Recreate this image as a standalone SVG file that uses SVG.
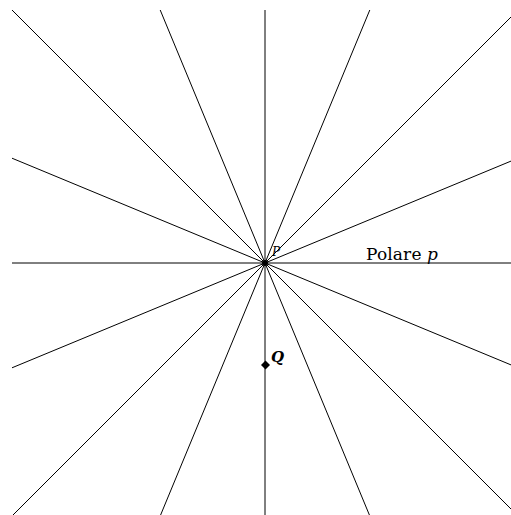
<svg xmlns="http://www.w3.org/2000/svg" width="511" height="515" viewBox="0 0 511 515">
<style>
.ln{stroke:#000;stroke-width:1;fill:none}
.lbl{font-family:"DejaVu Serif","Liberation Serif",serif;fill:#000}
.it{font-style:italic}
</style>
<rect width="511" height="515" fill="#fff"/>
<g id="connectors">
<line class="ln" x1="265" y1="10" x2="265" y2="515"/>
<line class="ln" x1="12" y1="263" x2="511" y2="263"/>
<line class="ln" x1="12" y1="10" x2="511" y2="509"/>
<line class="ln" x1="13" y1="515" x2="511" y2="17"/>
<line class="ln" x1="160.2" y1="10" x2="369.4" y2="515"/>
<line class="ln" x1="369.8" y1="10" x2="160.6" y2="515"/>
<line class="ln" x1="12" y1="158.2" x2="511" y2="364.9"/>
<line class="ln" x1="12" y1="367.8" x2="511" y2="161.1"/>
</g>
<g id="P">
<circle cx="265" cy="263" r="3" fill="#000"/>
<text class="lbl it" x="272" y="256" font-size="12">P</text>
</g>
<g id="Q">
<path d="M265.5 360.5 L270 365 L265.5 369.5 L261 365 Z" fill="#000"/>
<text class="lbl it" x="271" y="362" font-size="15" font-weight="bold">Q</text>
</g>
<g id="polare">
<text class="lbl" x="366" y="260" font-size="17" textLength="72" lengthAdjust="spacing">Polare <tspan class="it">p</tspan></text>
</g>
</svg>
